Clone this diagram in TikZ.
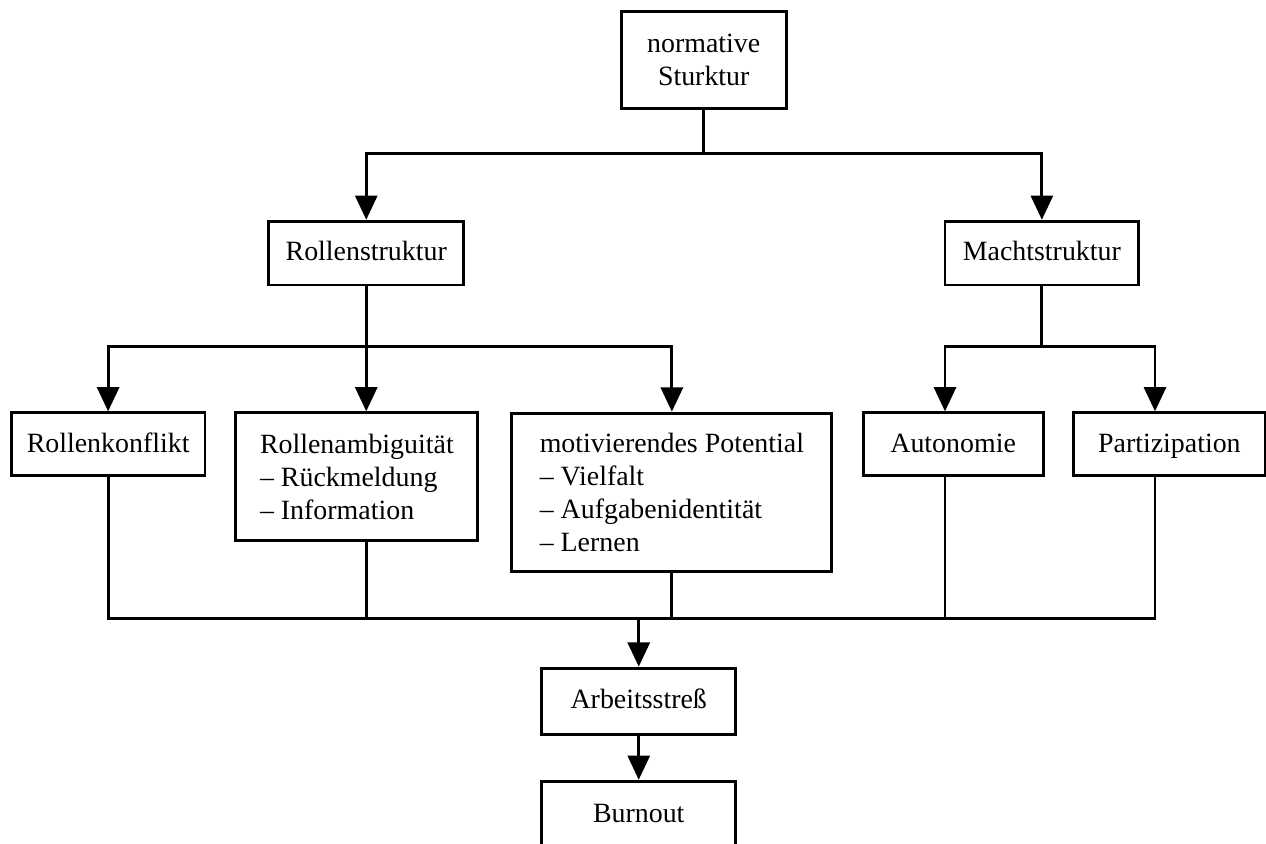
\documentclass[tikz,border=0pt]{standalone}
\usepackage{fontspec}
\setmainfont{Liberation Serif}
\usepackage{tikz}
\usetikzlibrary{arrows.meta}

\begin{document}
\begin{tikzpicture}[%
% common options for the boxes:
box/.style = {draw, line width=1.35pt, align=left, inner sep=0,
            minimum height=1.01cm, font=\fontsize{12.7}{15.1}\selectfont},
% boxes with one line of text:
single/.style = {box, text height=0.7em, text depth=0pt},
% common options for the connectors:
link/.style = {line width=1.35pt},
arr/.style = {link, -{Triangle[width=10pt,length=11pt]}}]
\useasboundingbox (0,0) rectangle (20.256,-13.488);
\clip (0,0) rectangle (20.256,-13.488);
\node[box, minimum width=2.64cm, minimum height=1.54cm, align=center] (norm) at (11.26,-0.96) {normative\\Sturktur};
\node[single, minimum width=3.12cm, minimum height=1.02cm] (rolle) at (5.86,-4.05) {Rollenstruktur};
\node[single, minimum width=3.10cm, minimum height=1.02cm] (macht) at (16.67,-4.05) {Machtstruktur};
\node[single, minimum width=3.10cm] (konfl) at (1.73,-7.11) {Rollenkonflikt};
\node[box, minimum width=3.87cm, minimum height=2.05cm] (ambig) at (5.71,-7.63) {Rollenambiguität\\– Rückmeldung\\– Information};
\node[box, minimum width=5.12cm, minimum height=2.54cm] (motiv) at (10.75,-7.88) {motivierendes Potential\\– Vielfalt\\– Aufgabenidentität\\– Lernen};
\node[single, minimum width=2.88cm] (auton) at (15.25,-7.11) {Autonomie};
\node[single, minimum width=3.06cm] (parti) at (18.71,-7.11) {Partizipation};
\node[single, minimum width=3.10cm, minimum height=1.06cm] (stress) at (10.22,-11.22) {Arbeitsstreß};
\node[single, minimum width=3.10cm, minimum height=1.06cm] (burn) at (10.22,-13.03) {Burnout};
% bus lines
\coordinate (b1) at (0,-2.46);
\coordinate (b2) at (0,-5.55);
\coordinate (b3) at (0,-9.90);
% top level
\draw[link] (norm.south) -- (norm.south |- b1);
\draw[arr] (norm.south |- b1) -| (rolle.north);
\draw[arr] (norm.south |- b1) -| (macht.north);
% second level
\draw[link] (rolle.south) -- (rolle.south |- b2);
\draw[arr] (rolle.south |- b2) -| (konfl.north);
\draw[arr] (rolle.south) -- (rolle.south |- ambig.north);
\draw[arr] (rolle.south |- b2) -| (motiv.north);
\draw[link] (macht.south) -- (macht.south |- b2);
\draw[arr] (macht.south |- b2) -| ([xshift=-0.13cm]auton.north);
\draw[arr] (macht.south |- b2) -| ([xshift=-0.23cm]parti.north);
% bottom
\draw[link] (konfl.south) |- (stress.north |- b3);
\draw[link] (rolle.south |- ambig.south) -- (rolle.south |- b3);
\draw[link] (motiv.south) -- (motiv.south |- b3);
\draw[link] ([xshift=-0.13cm]auton.south) -- ([xshift=-0.13cm]auton.south |- b3);
\draw[link] ([xshift=-0.23cm]parti.south) |- (stress.north |- b3);
\draw[arr] (stress.north |- b3) -- (stress.north);
\draw[arr] (stress) -- (burn);
\end{tikzpicture}
\end{document}
